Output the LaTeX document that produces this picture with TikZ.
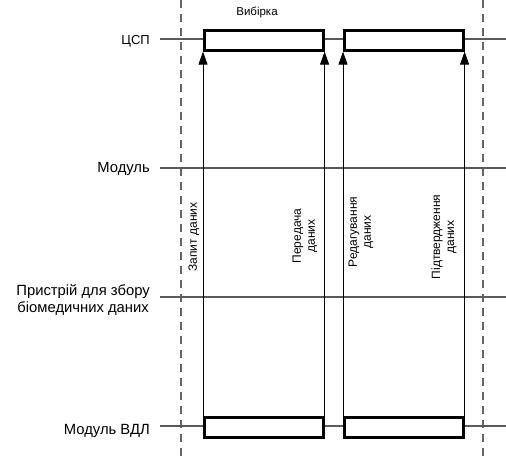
\documentclass[tikz,border=0pt]{standalone}
\usepackage{fontspec}
\setmainfont{Liberation Sans}
\usetikzlibrary{arrows.meta}
\begin{document}
\begin{tikzpicture}[x=1pt,y=-1pt,
  lifeline/.style={draw=black!65, line width=1.2pt},
  boundary/.style={draw=black!60, line width=1.3pt, dash pattern=on 8pt off 6pt},
  activity/.style={draw=black, line width=2.6pt, fill=white, minimum width=119pt, minimum height=20pt, inner sep=0pt, anchor=north west},
  msg/.style={draw=black, line width=0.8pt, -{Triangle[length=13pt,width=9pt]}},
  lane/.style={font=\fontsize{14.8}{17.5}\selectfont, anchor=east, inner sep=1pt, align=center},
  note/.style={font=\fontsize{12}{14}\selectfont, rotate=90, align=center, inner sep=0pt}]
\useasboundingbox (0,0) rectangle (506,457);
\fill[white] (0,0) rectangle (506,457);

% boundaries of the sampling interval
\coordinate (bl1) at (181,0);  \coordinate (bl2) at (181,457);
\coordinate (br1) at (483,0);  \coordinate (br2) at (483,457);
\draw[boundary] (bl1) -- (bl2);
\draw[boundary] (br1) -- (br2);

% lifelines
\coordinate (c1) at (160,39);  \coordinate (c2) at (506,39);
\coordinate (m1) at (160,168); \coordinate (m2) at (506,168);
\coordinate (p1) at (160,297); \coordinate (p2) at (506,297);
\coordinate (v1) at (160,426); \coordinate (v2) at (506,426);
\draw[lifeline] (c1) -- (c2);
\draw[lifeline] (m1) -- (m2);
\draw[lifeline] (p1) -- (p2);
\draw[lifeline] (v1) -- (v2);

% lane labels
\node[lane, font=\fontsize{13}{15}\selectfont] (lc) at (151,41) {ЦСП};
\node[lane] (lm) at (151,169) {Модуль};
\node[lane] (lp) at (151,300) {Пристрій для збору\\біомедичних даних};
\node[lane] (lv) at (151,431) {Модуль ВДЛ};

% activity bars
\node[activity] (t1) at (203,29) {};
\node[activity] (t2) at (343,29) {};
\node[activity] (b1) at (203,416) {};
\node[activity] (b2) at (343,416) {};

\node[font=\fontsize{11.5}{13}\selectfont] (vyb) at (257,12) {Вибірка};

% messages
\draw[msg] (b1.north west) -- (t1.south west);
\draw[msg] (b1.north east) -- (t1.south east);
\draw[msg] (b2.north west) -- (t2.south west);
\draw[msg] (b2.north east) -- (t2.south east);

% message labels
\node[note] (n1) at (194,237) {Запит даних};
\node[note] (n2) at (305,236) {Передача\\даних};
\node[note] (n3) at (361,232) {Редагування\\даних};
\node[note] (n4) at (444,237) {Підтвердження\\даних};
\end{tikzpicture}
\end{document}
